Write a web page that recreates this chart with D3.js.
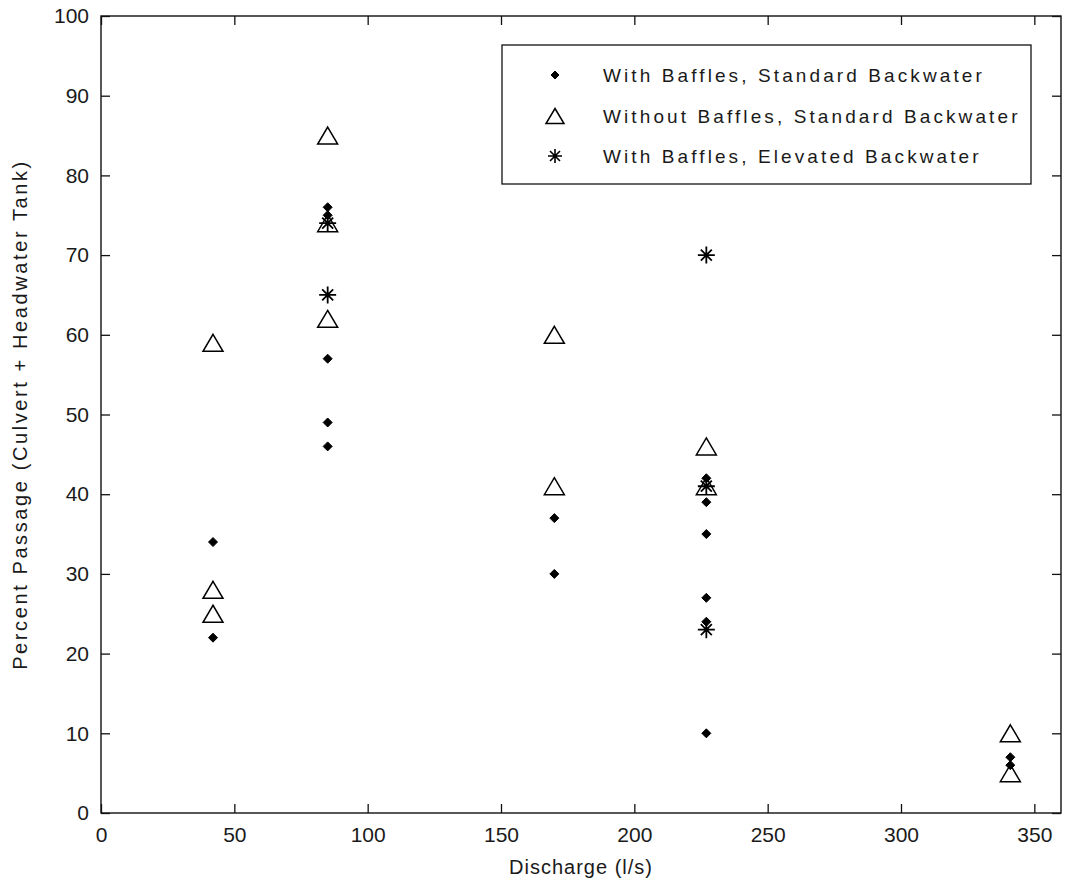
<!DOCTYPE html>
<html><head><meta charset="utf-8">
<script src="https://cdn.jsdelivr.net/npm/d3@7"></script>
<style>body{margin:0;background:#fff}svg{display:block}text{font-family:"Liberation Sans",Arial,sans-serif;fill:#1a1a1a}</style>
</head><body><svg id="c" width="1066" height="886"></svg>
<script>
// Series: With Baffles, Standard Backwater (diamonds)
const diamondX = [42, 42, 85, 85, 85, 85, 85, 170, 170, 227, 227, 227, 227, 227, 227, 341, 341];
const diamondY = [34, 22, 76, 75, 57, 49, 46, 37, 30, 42, 39, 35, 27, 24, 10, 7, 6];
// Series: Without Baffles, Standard Backwater (triangles)
const triangleX = [42, 42, 42, 85, 85, 85, 170, 170, 227, 227, 341, 341];
const triangleY = [59, 28, 25, 85, 74, 62, 60, 41, 46, 41, 10, 5];
// Series: With Baffles, Elevated Backwater (stars)
const starX = [85, 85, 227, 227, 227];
const starY = [74, 65, 70, 41, 23];
const seriesNames = ["With Baffles, Standard Backwater", "Without Baffles, Standard Backwater", "With Baffles, Elevated Backwater"];
const xTicks = [0, 50, 100, 150, 200, 250, 300, 350];
const yTicks = [0, 10, 20, 30, 40, 50, 60, 70, 80, 90, 100];
const xLabel = "Discharge (l/s)";
const yLabel = "Percent Passage (Culvert + Headwater Tank)";

const svg = d3.select("#c");
const L = 101, R = 1061, T = 16, B = 813;
const x = d3.scaleLinear().domain([0, 360]).range([L, R]);
const y = d3.scaleLinear().domain([0, 100]).range([B, T]);

const tickLen = 9;
const tickFont = "21px";
// box
svg.append("rect").attr("x", L).attr("y", T).attr("width", R - L).attr("height", B - T)
  .attr("fill", "none").attr("stroke", "#111").attr("stroke-width", 1.4);

const gx = svg.append("g").attr("transform", `translate(0,${B})`)
  .call(d3.axisBottom(x).tickValues(xTicks).tickSize(-tickLen).tickPadding(tickLen + 5).tickFormat(d3.format("d")));
const gxt = svg.append("g").attr("transform", `translate(0,${T})`)
  .call(d3.axisTop(x).tickValues(xTicks).tickSize(-tickLen).tickFormat(""));
const gy = svg.append("g").attr("transform", `translate(${L},0)`)
  .call(d3.axisLeft(y).tickValues(yTicks).tickSize(-tickLen).tickPadding(tickLen + 3).tickFormat(d3.format("d")));
const gyr = svg.append("g").attr("transform", `translate(${R},0)`)
  .call(d3.axisRight(y).tickValues(yTicks).tickSize(-tickLen).tickFormat(""));
[gx, gxt, gy, gyr].forEach(g => {
  g.select(".domain").remove();
  g.selectAll(".tick line").attr("stroke", "#111").attr("stroke-width", 1.3);
  g.selectAll(".tick text").style("font-size", tickFont).attr("fill", "#1a1a1a");
});

// axis labels
svg.append("text").attr("x", (L + R) / 2).attr("y", 874).attr("text-anchor", "middle")
  .style("font-size", "20px").style("letter-spacing", "1px").text(xLabel);
svg.append("text").attr("transform", `translate(27,${(T + B) / 2}) rotate(-90)`).attr("text-anchor", "middle")
  .style("font-size", "20px").style("letter-spacing", "2.6px").text(yLabel);

// marker paths
function diamondPath(s) { return `M0,${-s}L${s},0L0,${s}L${-s},0Z`; }
function trianglePath(w, h) { return `M0,${-h / 2}L${w / 2},${h / 2}L${-w / 2},${h / 2}Z`; }
function starPath(a, b) { return `M${-a},0H${a}M0,${-a}V${a}M${-b},${-b}L${b},${b}M${-b},${b}L${b},${-b}`; }

const plot = svg.append("g");
plot.selectAll("path.tri").data(d3.zip(triangleX, triangleY)).join("path").attr("class", "tri")
  .attr("transform", d => `translate(${x(d[0])},${y(d[1])})`).attr("d", trianglePath(20, 17))
  .attr("fill", "none").attr("stroke", "#000").attr("stroke-width", 1.5);
plot.selectAll("path.dia").data(d3.zip(diamondX, diamondY)).join("path").attr("class", "dia")
  .attr("transform", d => `translate(${x(d[0])},${y(d[1])})`).attr("d", diamondPath(4.5))
  .attr("fill", "#000").attr("stroke", "#000").attr("stroke-width", 1);
plot.selectAll("path.star").data(d3.zip(starX, starY)).join("path").attr("class", "star")
  .attr("transform", d => `translate(${x(d[0])},${y(d[1])})`).attr("d", starPath(8.5, 5.5))
  .attr("fill", "none").attr("stroke", "#000").attr("stroke-width", 1.8);

// legend
const lg = svg.append("g");
lg.append("rect").attr("x", 502).attr("y", 45).attr("width", 529).attr("height", 139)
  .attr("fill", "#fff").attr("stroke", "#111").attr("stroke-width", 1.3);
const rowY = [75, 116, 156];
const lgMarkers = [
  {d: diamondPath(4), fill: "#000", sw: 1},
  {d: trianglePath(18, 15), fill: "none", sw: 1.5},
  {d: starPath(7, 5), fill: "none", sw: 1.6}
];
seriesNames.forEach((name, i) => {
  lg.append("path").attr("transform", `translate(555,${rowY[i]})`).attr("d", lgMarkers[i].d)
    .attr("fill", lgMarkers[i].fill).attr("stroke", "#000").attr("stroke-width", lgMarkers[i].sw);
  lg.append("text").attr("x", 603).attr("y", rowY[i] + 7).style("font-size", "19px")
    .style("letter-spacing", "3.1px").text(name);
});
</script></body></html>
